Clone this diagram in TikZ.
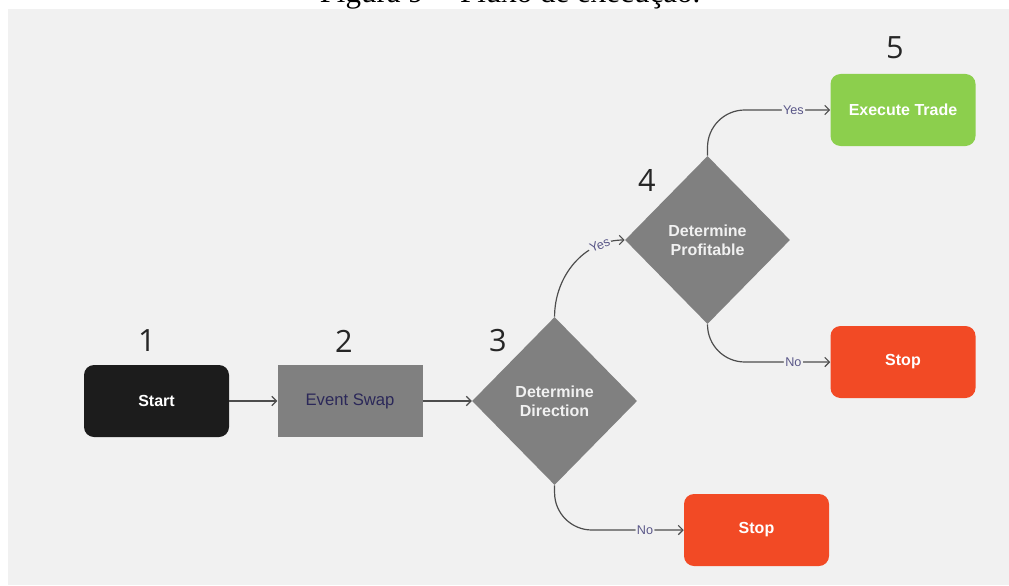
\documentclass[tikz,border=0pt]{standalone}
\usepackage{fontspec}
\setmainfont{Liberation Sans}
\newfontfamily\numfont{Open Sans}
\newfontfamily\capfont{Liberation Serif}
\usetikzlibrary{shapes.geometric,
                arrows.meta,
                positioning}
\definecolor{panel}{HTML}{F1F1F1}
\definecolor{startfill}{HTML}{1C1C1C}
\definecolor{stepfill}{HTML}{808080}
\definecolor{steptext}{HTML}{2B2859}
\definecolor{tradefill}{HTML}{8CCF4D}
\definecolor{stopfill}{HTML}{F24A25}
\definecolor{flowline}{HTML}{4D4D4D}
\definecolor{choicetext}{HTML}{5B5889}
\tikzset{startbox/.style =
   {rectangle,
    rounded corners=7.5pt,
    fill=startfill,
    text=white,
    font=\bfseries\fontsize{12}{14}\selectfont,
    minimum width=108.75pt,
    minimum height=54pt}}
\tikzset{stepbox/.style =
   {rectangle,
    fill=stepfill,
    text=steptext,
    font=\fontsize{12.5}{15}\selectfont,
    minimum width=108.75pt,
    minimum height=54pt}}
\tikzset{decision/.style =
   {diamond,
    fill=stepfill,
    text=panel,
    align=center,
    inner sep=0pt,
    font=\bfseries\fontsize{12}{14}\selectfont,
    minimum width=123.75pt,
    minimum height=126pt}}
\tikzset{endbox/.style =
   {startbox,
    fill=#1}}
\tikzset{stepnum/.style =
   {text=black!85,
    font=\numfont\fontsize{23}{26}\selectfont}}
\tikzset{choice/.style =
   {fill=panel,
    text=choicetext,
    inner sep=1pt,
    font=\fontsize{9.5}{11}\selectfont}}
\tikzset{arrow/.style =
   {draw=flowline,
    line width=0.9pt,
    -{Straight Barb[length=3.5pt,width=7pt]}}}

\begin{document}
\begin{tikzpicture}[x=0.75pt, y=-0.75pt]

        \useasboundingbox (0,0) rectangle (1009,585);
        \fill [panel] (8,9) rectangle (1009,585);

        \node [anchor=base, font=\capfont\fontsize{23.25}{28}\selectfont]
              (caption) at (510,3) {Figura 9 -- Fluxo de execução.};

        \node [startbox] (start) at (156.5,401) {Start};

        \node [stepbox,
               right = 36pt of start] (swap) {Event Swap};

        \node [decision,
               right = 36.75pt of swap] (direction) {Determine\\Direction};

        \node [decision] (profit) at (707.5,240) {Determine\\Profitable};

        \node [endbox=tradefill] (trade) at (903,110) {Execute Trade};

        \node [endbox=stopfill] (stopa) at (903,362) {Stop};

        \node [endbox=stopfill] (stopb) at (756.5,530) {Stop};

        \node [stepnum] (num1) at (147,341) {1};
        \node [stepnum] (num2) at (344,341) {2};
        \node [stepnum] (num3) at (498,341) {3};
        \node [stepnum] (num4) at (647,180) {4};
        \node [stepnum] (num5) at (895,48) {5};

        \draw [arrow] (start) -- (swap);
        \draw [arrow] (swap) -- (direction);

        \draw [arrow] (direction.north) to [out=90, in=180]
         node [choice, sloped, pos=0.78] {Yes} (profit.west);
        \draw [arrow, rounded corners=28pt] (direction.south) |-
         node [choice, pos=0.85] {No} (stopb.west);

        \draw [arrow, rounded corners=28pt] (profit.north) |-
         node [choice, pos=0.85] {Yes} (trade.west);
        \draw [arrow, rounded corners=28pt] (profit.south) |-
         node [choice, pos=0.85] {No} (stopa.west);

    \end{tikzpicture}
\end{document}
